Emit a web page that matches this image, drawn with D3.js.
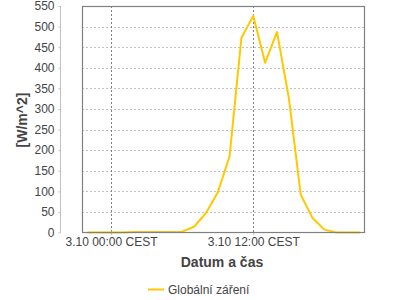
<!DOCTYPE html>
<html>
<head>
<meta charset="utf-8">
<script src="https://cdn.jsdelivr.net/npm/d3@7"></script>
<style>
  body { margin: 0; background: #fff; }
  svg { display: block; font-family: "Liberation Sans", Arial, sans-serif; }
</style>
</head>
<body>
<svg id="graf" width="400" height="300"></svg>
<script>
// hodiny od 3.10 00:00 (CEST), záporné = předchozí den
const hodiny = [-2, -1, 0, 1, 2, 3, 4, 5, 6, 7, 8, 9, 10, 11, 12, 13, 14, 15, 16, 17, 18, 19, 20, 21];
const zareni = [0, 0, 0, 0, 1, 1, 1, 1, 2, 14, 47, 97, 185, 473, 526, 412, 487, 326, 92, 35, 7, 0, 0, 0];
const yTicks = [0, 50, 100, 150, 200, 250, 300, 350, 400, 450, 500, 550];
const xTicks = [0, 12];
const xTickLabels = ["3.10 00:00 CEST", "3.10 12:00 CEST"];

const W = 400, H = 300;
const plot = { left: 82, right: 365, top: 6, bottom: 233 };

const svg = d3.select("#graf");

const x = d3.scaleLinear()
    .domain([-2.445, 21.42])
    .range([plot.left, plot.right]);

const y = d3.scaleLinear()
    .domain([0, 550])
    .range([plot.bottom - 0.5, plot.top]);

// mřížka
svg.append("g")
    .selectAll("line")
    .data(yTicks.slice(1))
    .join("line")
    .attr("x1", plot.left).attr("x2", plot.right)
    .attr("y1", d => Math.round(y(d)) + 0.5).attr("y2", d => Math.round(y(d)) + 0.5)
    .attr("stroke", "#c0c0c0")
    .attr("stroke-dasharray", "2,2");

svg.append("g")
    .selectAll("line")
    .data(xTicks)
    .join("line")
    .attr("x1", d => Math.round(x(d)) + 0.5).attr("x2", d => Math.round(x(d)) + 0.5)
    .attr("y1", plot.top).attr("y2", plot.bottom)
    .attr("stroke", "#808080")
    .attr("stroke-dasharray", "2,2");

// osa Y
const yAxis = d3.axisLeft(y).tickValues(yTicks).tickSize(2).tickPadding(4);
const gy = svg.append("g")
    .attr("transform", "translate(60.5,0)")
    .call(yAxis);
gy.select(".domain").attr("stroke", "#c0c0c0").attr("d", `M0,${plot.top}V${plot.bottom}`);
gy.selectAll(".tick line").attr("stroke", "#c0c0c0");
gy.selectAll("text").attr("fill", "#444").style("font-size", "12px");

// osa X
const xAxis = d3.axisBottom(x).tickValues(xTicks)
    .tickFormat((d, i) => xTickLabels[i]).tickSize(2).tickPadding(2);
const gx = svg.append("g")
    .attr("transform", `translate(0,${plot.bottom})`)
    .call(xAxis);
gx.select(".domain").remove();
gx.selectAll(".tick line").attr("stroke", "#c0c0c0");
gx.selectAll("text").attr("fill", "#444").style("font-size", "12px");

// data
const line = d3.line()
    .x((d, i) => x(hodiny[i]))
    .y(d => y(d));

svg.append("path")
    .datum(zareni)
    .attr("d", line)
    .attr("fill", "none")
    .attr("stroke", "#ffc800")
    .attr("stroke-width", 2)
    .attr("stroke-linejoin", "round");

// rámeček
svg.append("rect")
    .attr("x", plot.left + 0.5).attr("y", plot.top + 0.5)
    .attr("width", plot.right - plot.left - 1).attr("height", plot.bottom - plot.top - 1)
    .attr("fill", "none")
    .attr("stroke", "#808080")
    .attr("stroke-width", 1.2);

// popisky os
svg.append("text")
    .attr("transform", "translate(27,120) rotate(-90)")
    .attr("text-anchor", "middle")
    .attr("fill", "#444")
    .style("font-size", "14px")
    .style("font-weight", "bold")
    .text("[W/m^2]");

svg.append("text")
    .attr("x", 222).attr("y", 267)
    .attr("text-anchor", "middle")
    .attr("fill", "#444")
    .style("font-size", "14px")
    .style("font-weight", "bold")
    .text("Datum a čas");

// legenda
svg.append("line")
    .attr("x1", 148).attr("x2", 164)
    .attr("y1", 289.5).attr("y2", 289.5)
    .attr("stroke", "#ffc800")
    .attr("stroke-width", 2);

svg.append("text")
    .attr("x", 168).attr("y", 293.5)
    .attr("fill", "#444")
    .style("font-size", "12px")
    .text("Globální záření");
</script>
</body>
</html>
